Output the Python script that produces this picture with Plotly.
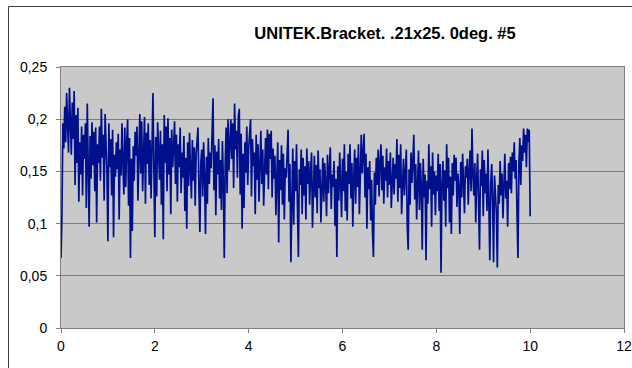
import numpy as np
import plotly.graph_objects as go

# Measured signal, sampled every 0.02 s from 0 to 10 s
sample_period = 0.02
signal = [
    0.067, 0.108, 0.196, 0.172, 0.212, 0.178, 0.225, 0.188, 0.168, 0.230, 0.198, 0.166, 0.216, 0.181, 0.227, 0.137, 0.204, 0.158, 0.211, 0.121,
    0.178, 0.147, 0.193, 0.127, 0.185, 0.162, 0.196, 0.115, 0.215, 0.168, 0.097, 0.184, 0.143, 0.197, 0.156, 0.188, 0.131, 0.192, 0.101, 0.176,
    0.158, 0.193, 0.141, 0.210, 0.163, 0.185, 0.122, 0.205, 0.172, 0.148, 0.083, 0.196, 0.154, 0.181, 0.127, 0.190, 0.087, 0.166, 0.145, 0.178,
    0.152, 0.186, 0.104, 0.171, 0.146, 0.196, 0.158, 0.128, 0.192, 0.135, 0.176, 0.200, 0.117, 0.182, 0.067, 0.162, 0.093, 0.174, 0.141, 0.188,
    0.165, 0.193, 0.122, 0.184, 0.205, 0.148, 0.198, 0.131, 0.176, 0.202, 0.119, 0.187, 0.157, 0.196, 0.137, 0.180, 0.124, 0.194, 0.225, 0.151,
    0.087, 0.183, 0.126, 0.197, 0.164, 0.142, 0.189, 0.118, 0.176, 0.085, 0.204, 0.158, 0.193, 0.131, 0.201, 0.147, 0.182, 0.109, 0.190, 0.154,
    0.172, 0.198, 0.138, 0.185, 0.121, 0.176, 0.154, 0.192, 0.129, 0.168, 0.144, 0.184, 0.112, 0.163, 0.095, 0.178, 0.136, 0.187, 0.151, 0.124,
    0.180, 0.141, 0.173, 0.117, 0.166, 0.187, 0.192, 0.133, 0.092, 0.158, 0.171, 0.126, 0.178, 0.145, 0.090, 0.164, 0.119, 0.182, 0.138, 0.168,
    0.153, 0.186, 0.220, 0.132, 0.175, 0.108, 0.169, 0.147, 0.181, 0.124, 0.161, 0.113, 0.179, 0.142, 0.067, 0.158, 0.192, 0.129, 0.200, 0.151,
    0.183, 0.200, 0.162, 0.196, 0.134, 0.215, 0.171, 0.189, 0.144, 0.203, 0.210, 0.128, 0.186, 0.095, 0.167, 0.115, 0.178, 0.149, 0.193, 0.137,
    0.172, 0.188, 0.200, 0.126, 0.181, 0.155, 0.168, 0.109, 0.185, 0.142, 0.176, 0.121, 0.163, 0.189, 0.138, 0.171, 0.117, 0.158, 0.182, 0.147,
    0.190, 0.133, 0.186, 0.162, 0.189, 0.125, 0.172, 0.143, 0.165, 0.108, 0.156, 0.178, 0.082, 0.161, 0.132, 0.175, 0.118, 0.167, 0.104, 0.153,
    0.144, 0.169, 0.190, 0.121, 0.157, 0.063, 0.148, 0.172, 0.099, 0.160, 0.131, 0.176, 0.116, 0.068, 0.152, 0.137, 0.171, 0.109, 0.163, 0.127,
    0.155, 0.104, 0.172, 0.138, 0.160, 0.118, 0.149, 0.168, 0.096, 0.142, 0.165, 0.125, 0.156, 0.110, 0.170, 0.134, 0.152, 0.101, 0.145, 0.163,
    0.121, 0.158, 0.139, 0.107, 0.166, 0.129, 0.151, 0.173, 0.114, 0.147, 0.135, 0.160, 0.098, 0.143, 0.068, 0.155, 0.122, 0.168, 0.140, 0.106,
    0.162, 0.131, 0.176, 0.112, 0.150, 0.103, 0.167, 0.138, 0.176, 0.124, 0.158, 0.097, 0.145, 0.171, 0.119, 0.163, 0.135, 0.176, 0.109, 0.156,
    0.185, 0.148, 0.178, 0.186, 0.125, 0.167, 0.095, 0.154, 0.133, 0.160, 0.103, 0.142, 0.091, 0.068, 0.149, 0.118, 0.163, 0.137, 0.171, 0.126,
    0.158, 0.176, 0.132, 0.165, 0.119, 0.154, 0.141, 0.172, 0.125, 0.160, 0.137, 0.168, 0.115, 0.149, 0.163, 0.128, 0.157, 0.143, 0.181, 0.121,
    0.166, 0.134, 0.176, 0.109, 0.150, 0.162, 0.127, 0.144, 0.171, 0.098, 0.075, 0.152, 0.118, 0.168, 0.139, 0.161, 0.185, 0.123, 0.157, 0.104,
    0.149, 0.170, 0.113, 0.158, 0.136, 0.075, 0.162, 0.125, 0.147, 0.065, 0.141, 0.119, 0.176, 0.133, 0.155, 0.097, 0.168, 0.128, 0.150, 0.108,
    0.146, 0.131, 0.167, 0.112, 0.157, 0.053, 0.138, 0.160, 0.122, 0.151, 0.097, 0.176, 0.134, 0.163, 0.101, 0.145, 0.090, 0.158, 0.127, 0.166,
    0.141, 0.163, 0.116, 0.148, 0.134, 0.090, 0.159, 0.125, 0.167, 0.138, 0.110, 0.155, 0.144, 0.162, 0.118, 0.151, 0.170, 0.131, 0.191, 0.146,
    0.127, 0.158, 0.101, 0.143, 0.167, 0.119, 0.075, 0.152, 0.136, 0.170, 0.107, 0.161, 0.129, 0.148, 0.112, 0.171, 0.094, 0.065, 0.139, 0.157,
    0.120, 0.063, 0.146, 0.131, 0.110, 0.058, 0.137, 0.119, 0.160, 0.127, 0.148, 0.105, 0.153, 0.167, 0.124, 0.141, 0.097, 0.158, 0.133, 0.164,
    0.129, 0.168, 0.150, 0.178, 0.143, 0.161, 0.109, 0.067, 0.158, 0.182, 0.137, 0.175, 0.160, 0.191, 0.168, 0.185, 0.154, 0.191, 0.178, 0.190,
    0.107,
]
time = np.arange(len(signal)) * sample_period

title_text = "UNITEK.Bracket. .21x25. 0deg. #5"
x_ticks = [0, 2, 4, 6, 8, 10, 12]
y_ticks = [0, 0.05, 0.1, 0.15, 0.2, 0.25]
y_tick_labels = ["0", "0,05", "0,1", "0,15", "0,2", "0,25"]

W, H = 632, 368
L, R, T, B = 61, 8, 67, 40
pw, ph = W - L - R, H - T - B

fig = go.Figure()
fig.add_trace(go.Scatter(
    x=time, y=signal, mode="lines",
    line=dict(color="#00108C", width=1.7),
    showlegend=False, hoverinfo="skip",
))

font = dict(family="Liberation Sans, Arial, sans-serif", size=14, color="#000000")

fig.update_layout(
    width=W, height=H,
    margin=dict(l=L, r=R, t=T, b=B, pad=0, autoexpand=False),
    paper_bgcolor="#FFFFFF",
    plot_bgcolor="#C9C9C9",
    font=font,
    title=dict(
        text="<b>" + title_text + "</b>",
        font=dict(family="Liberation Sans, Arial, sans-serif", size=16.5, color="#000000"),
        x=(385 - L) / pw, xref="paper", xanchor="center",
        y=1 - 33 / H, yref="container", yanchor="middle",
    ),
    xaxis=dict(
        range=[0, 12], tickvals=x_ticks, ticktext=[str(v) for v in x_ticks],
        showgrid=False, zeroline=False, automargin=False,
        showline=True, linecolor="#808080", linewidth=1, mirror=True,
        ticks="outside", ticklen=4, tickcolor="#808080",
        ticklabelstandoff=1,
        tickfont=font,
    ),
    yaxis=dict(
        range=[0, 0.25], tickvals=y_ticks, ticktext=y_tick_labels,
        showgrid=True, gridcolor="#7A7A7A", gridwidth=1, zeroline=False,
        automargin=False,
        showline=True, linecolor="#808080", linewidth=1, mirror=True,
        ticks="outside", ticklen=4, tickcolor="#808080",
        ticklabelstandoff=6,
        tickfont=font,
    ),
    shapes=[dict(
        type="rect", xref="paper", yref="paper",
        x0=(8.5 - L) / pw, x1=(640 - L) / pw,
        y0=-(H + 5 - (H - B)) / ph, y1=1 + (T - 6.5) / ph,
        line=dict(color="#404040", width=1), fillcolor="rgba(0,0,0,0)",
        layer="below",
    )],
)

fig.write_html("out.html")
